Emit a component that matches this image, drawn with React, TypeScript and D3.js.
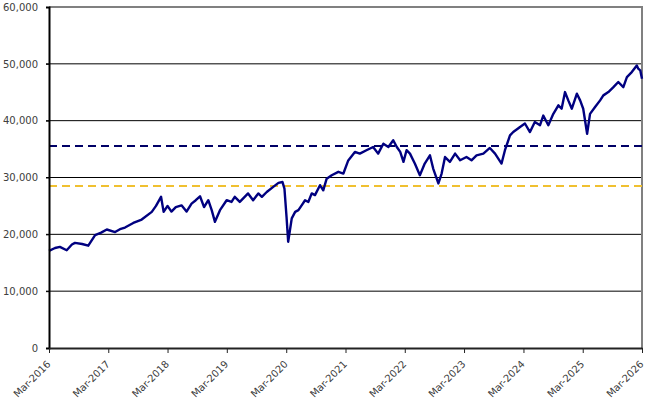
import { useEffect, useRef } from "react";
import * as d3 from "d3";

// index level, roughly one point every 2-5 weeks
const dates: string[] = [
  "2016-03-01", "2016-04-07", "2016-05-07", "2016-06-18", "2016-07-20", "2016-08-08", "2016-09-21", "2016-10-29",
  "2016-12-10", "2017-01-16", "2017-02-20", "2017-04-12", "2017-05-12", "2017-06-12", "2017-08-02", "2017-09-23",
  "2017-11-24", "2017-12-20", "2018-01-20", "2018-02-05", "2018-03-01", "2018-03-25", "2018-04-21", "2018-05-26",
  "2018-06-26", "2018-07-27", "2018-08-22", "2018-09-17", "2018-10-12", "2018-11-07", "2018-11-28", "2018-12-18",
  "2019-01-18", "2019-02-28", "2019-03-30", "2019-04-19", "2019-05-20", "2019-07-10", "2019-08-10", "2019-09-11",
  "2019-10-03", "2019-11-02", "2019-12-12", "2020-01-13", "2020-02-07", "2020-02-19", "2020-03-03", "2020-03-13",
  "2020-04-04", "2020-04-25", "2020-05-15", "2020-06-04", "2020-06-25", "2020-07-15", "2020-08-05", "2020-08-25",
  "2020-09-25", "2020-10-15", "2020-11-05", "2020-12-06", "2021-01-16", "2021-02-16", "2021-03-18", "2021-04-28",
  "2021-05-28", "2021-07-08", "2021-08-18", "2021-09-18", "2021-10-20", "2021-11-20", "2021-12-20", "2022-01-11",
  "2022-02-01", "2022-02-21", "2022-03-12", "2022-04-02", "2022-05-02", "2022-06-02", "2022-07-02", "2022-08-03",
  "2022-08-23", "2022-09-24", "2022-10-14", "2022-11-04", "2022-12-04", "2023-01-05", "2023-02-05", "2023-03-16",
  "2023-04-16", "2023-05-17", "2023-06-28", "2023-08-07", "2023-09-08", "2023-10-18", "2023-11-08", "2023-12-09",
  "2023-12-29", "2024-02-09", "2024-03-10", "2024-04-10", "2024-05-10", "2024-06-11", "2024-07-01", "2024-08-01",
  "2024-09-01", "2024-10-02", "2024-10-22", "2024-11-12", "2024-12-02", "2024-12-24", "2025-01-24", "2025-02-13",
  "2025-03-04", "2025-03-28", "2025-04-15", "2025-05-16", "2025-06-16", "2025-07-06", "2025-08-06", "2025-09-06",
  "2025-10-06", "2025-11-06", "2025-11-28", "2025-12-28", "2026-01-28", "2026-02-06", "2026-02-18", "2026-03-01",
];

const values: number[] = [
  17100, 17600, 17800, 17200, 18200, 18500, 18300, 18000,
  19850, 20300, 20850, 20400, 20900, 21200, 22000, 22600,
  23950, 25000, 26600, 23950, 25000, 24000, 24800, 25100,
  24000, 25400, 26000, 26700, 24800, 26000, 24250, 22200,
  24250, 26000, 25700, 26600, 25700, 27200, 26000, 27200,
  26600, 27450, 28350, 29050, 29200, 28050, 23000, 18700,
  22800, 23950, 24250, 25100, 26000, 25700, 27200, 26900,
  28650, 27750, 29800, 30400, 31000, 30700, 33000, 34500,
  34200, 34800, 35370, 34200, 35950, 35370, 36550, 35370,
  34500, 32750, 34800, 34200, 32450, 30400, 32450, 33900,
  31570, 28950, 30700, 33600, 32750, 34200, 33030, 33600,
  33030, 33900, 34200, 35200, 34200, 32450, 34800, 37400,
  38000, 38900, 39500, 38000, 39750, 39200, 40900, 39200,
  41200, 42700, 42100, 45030, 43570, 42100, 44740, 43570,
  42100, 37700, 41200, 42400, 43570, 44450, 45030, 45900,
  46800, 45900, 47670, 48550, 49720, 49150, 48850, 47380,
];

const refLevels: number[] = [35550, 28520];
const refColors: string[] = ["#000066", "#F0C030"];
const yTicks: number[] = [0, 10000, 20000, 30000, 40000, 50000, 60000];
const xTickYears: number[] = [2016, 2017, 2018, 2019, 2020, 2021, 2022, 2023, 2024, 2025, 2026];

const App = () => {
  const ref = useRef<SVGSVGElement>(null);

  useEffect(() => {
    if (!ref.current) return;
    const svg = d3.select(ref.current);
    svg.selectAll("*").remove();

    const width = 661;
    const height = 409;
    const margin = { top: 7, right: 19, bottom: 61, left: 49 };
    const parse = d3.timeParse("%Y-%m-%d");
    const data = dates.map((d, i) => ({ date: parse(d) as Date, value: values[i] }));

    const x = d3
      .scaleTime()
      .domain([new Date(2016, 2, 1), new Date(2026, 2, 1)])
      .range([margin.left, width - margin.right]);

    const y = d3
      .scaleLinear()
      .domain([0, 60000])
      .range([height - margin.bottom, margin.top]);

    const font = "'DejaVu Sans', Verdana, sans-serif";
    const textColor = "#404040";

    // gridlines
    svg
      .append("g")
      .selectAll("line")
      .data(yTicks.filter(t => t > 0 && t < 60000))
      .join("line")
      .attr("x1", margin.left - 3)
      .attr("x2", width - margin.right)
      .attr("y1", d => y(d))
      .attr("y2", d => y(d))
      .attr("stroke", "#000")
      .attr("stroke-width", 1);

    // frame top and right
    svg
      .append("path")
      .attr("d", `M${margin.left},${y(60000)}H${width - margin.right}V${y(0)}`)
      .attr("fill", "none")
      .attr("stroke", "#808080")
      .attr("stroke-width", 2);

    // reference dashed lines
    svg
      .append("g")
      .selectAll("line")
      .data(refLevels)
      .join("line")
      .attr("x1", margin.left)
      .attr("x2", width - margin.right)
      .attr("y1", d => y(d))
      .attr("y2", d => y(d))
      .attr("stroke", (d, i) => refColors[i])
      .attr("stroke-width", 2)
      .attr("stroke-dasharray", "8,5");

    // series
    const line = d3
      .line<{ date: Date; value: number }>()
      .x(d => x(d.date))
      .y(d => y(d.value));

    svg
      .append("path")
      .datum(data)
      .attr("d", line)
      .attr("fill", "none")
      .attr("stroke", "#000080")
      .attr("stroke-width", 2.4)
      .attr("stroke-linejoin", "round");

    // y axis
    const yAxis = svg
      .append("g")
      .attr("transform", `translate(${margin.left},0)`)
      .call(
        d3
          .axisLeft(y)
          .tickValues(yTicks)
          .tickSize(3)
          .tickPadding(8)
          .tickFormat(d => d3.format(",")(d as number))
      );
    yAxis.select(".domain").attr("stroke", "#000").attr("stroke-width", 2);
    yAxis.selectAll(".tick line").attr("stroke", "#000");
    yAxis
      .selectAll("text")
      .attr("font-family", font)
      .attr("font-size", 10)
      .attr("fill", textColor);

    // x axis
    const xAxis = svg
      .append("g")
      .attr("transform", `translate(0,${y(0)})`)
      .call(
        d3
          .axisBottom(x)
          .tickValues(xTickYears.map(yr => new Date(yr, 2, 1)))
          .tickSize(5)
          .tickSizeOuter(0)
          .tickFormat(d => d3.timeFormat("%b-%Y")(d as Date))
      );
    xAxis.select(".domain").attr("stroke", "#222").attr("stroke-width", 2);
    xAxis.selectAll(".tick line").attr("stroke", "#222");
    xAxis
      .selectAll("text")
      .attr("font-family", font)
      .attr("font-size", 10)
      .attr("fill", textColor)
      .attr("text-anchor", "end")
      .attr("dy", "0")
      .attr("transform", "translate(-4,11) rotate(-45)");
  }, []);

  return (
    <svg
      ref={ref}
      width={661}
      height={409}
      viewBox="0 0 661 409"
      style={{ position: "absolute", left: 0, top: 0, background: "#fff" }}
    />
  );
};

export default App;
